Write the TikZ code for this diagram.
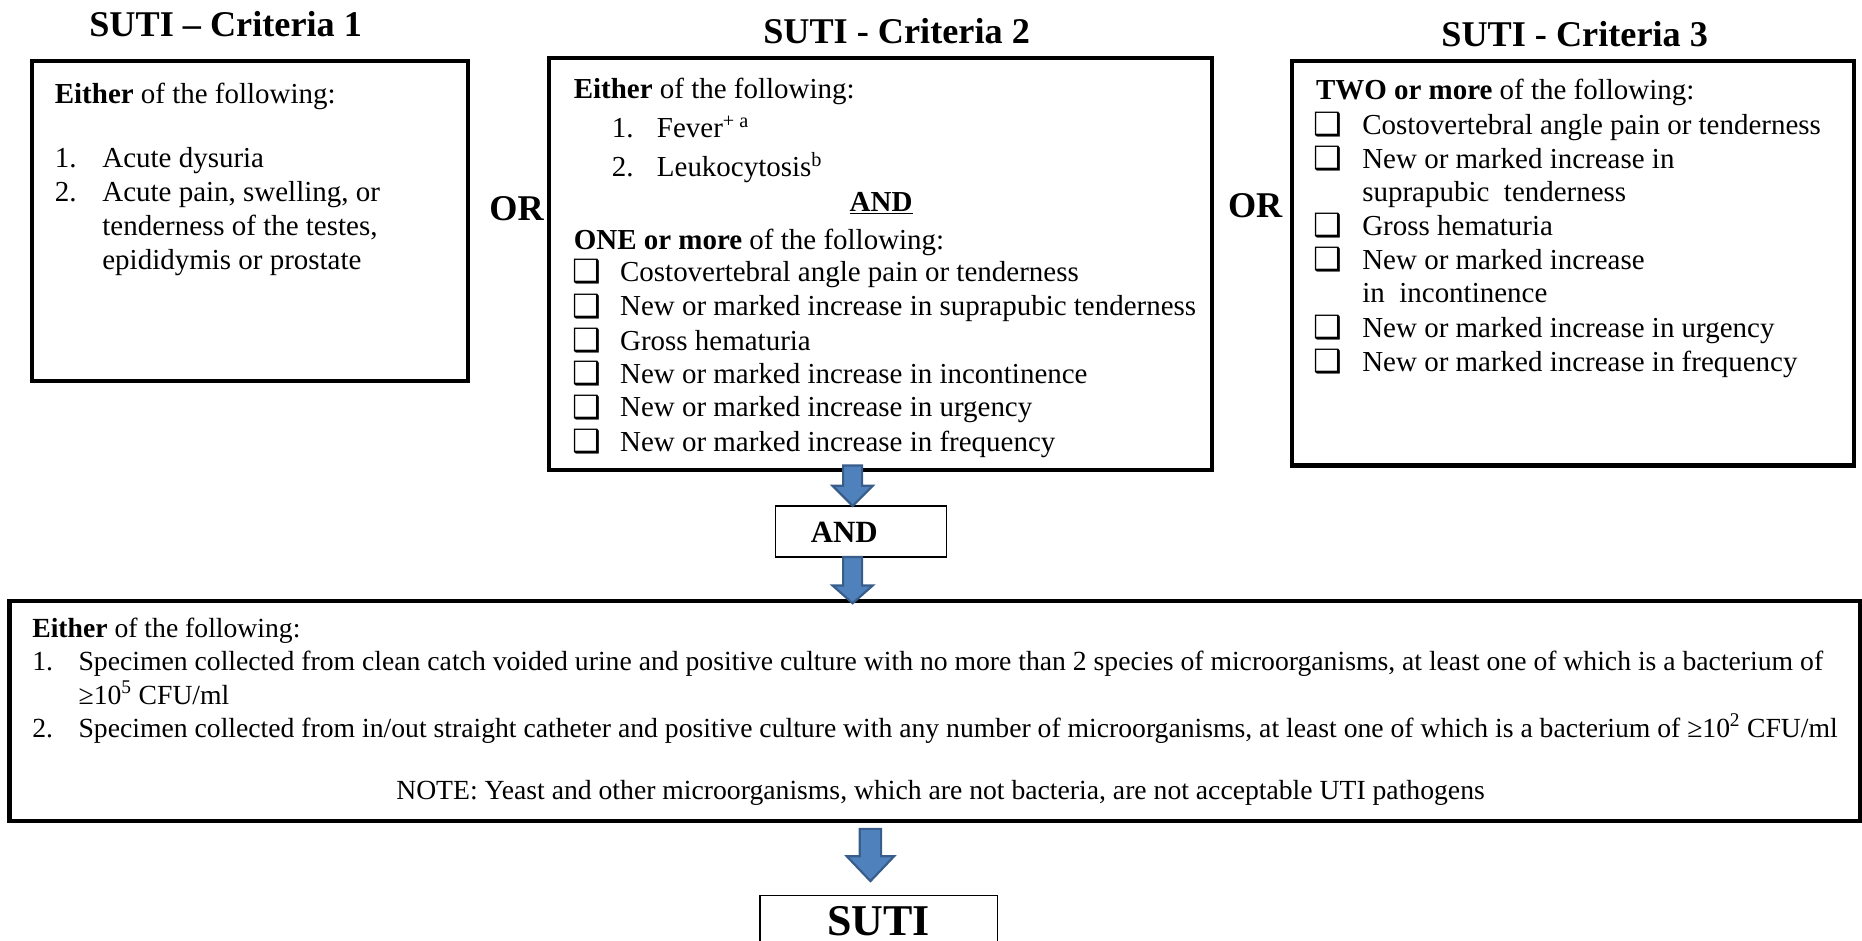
\documentclass[tikz,border=0pt]{standalone}
\usepackage{fontspec}
\setmainfont{Liberation Serif}
\newfontfamily\dejavu{DejaVu Sans}
\definecolor{arrowfill}{HTML}{4F81BD}
\definecolor{arrowline}{HTML}{385D8A}
\newcommand\cbx{{\dejavu\fontsize{27}{27}\selectfont ❑}}
\newcommand\barr[6]{% x, top, headstart, tip, shaft half, head half
  \draw[barrow] (#1-#5,#2) -- (#1+#5,#2) -- (#1+#5,#3) -- (#1+#6,#3) -- (#1,#4) -- (#1-#6,#3) -- (#1-#5,#3) -- cycle;}
\tikzset{
  body/.style={font=\fontsize{24.4}{28}\selectfont, inner sep=0pt, anchor=base west},
  small/.style={font=\fontsize{23.3}{27}\selectfont, inner sep=0pt, anchor=base west},
  ttl/.style={font=\fontsize{30.5}{34}\selectfont\bfseries, inner sep=0pt},
  chk/.style={inner sep=0pt, anchor=base west},
  thickbox/.style={draw, line width=3.4pt, inner sep=0pt},
  thinbox/.style={draw, line width=1.2pt, fill=white, inner sep=0pt},
  barrow/.style={fill=arrowfill, draw=arrowline, line width=1.8pt, line join=miter},
}
\begin{document}
\begin{tikzpicture}[x=1pt,y=-1pt]
\clip (0,0) rectangle (1568,792);
\fill[white] (0,0) rectangle (1568,792);

% titles
\node[ttl] (T1) at (190,20) {SUTI – Criteria 1};
\node[ttl] (T2) at (755,26) {SUTI - Criteria 2};
\node[ttl] (T3) at (1326,29) {SUTI - Criteria 3};

% boxes
\node[thickbox, minimum width=367, minimum height=270] (B1) at (210.5,186) {};
\node[thickbox, minimum width=559, minimum height=347] (B2) at (741.5,222.5) {};
\node[thickbox, minimum width=473, minimum height=341] (B3) at (1324.5,221.5) {};
\node[thickbox, minimum width=1558, minimum height=185] (B4) at (787,598.5) {};
\node[thinbox, minimum width=144, minimum height=43] (AND) at (725,447.5) {};
\node[thinbox, minimum width=200, minimum height=76] (SUTI) at (740,792) {};

% OR labels
\node[ttl] (OR1) at (435,176) {OR};
\node[ttl] (OR2) at (1057,173) {OR};

% box 1
\node[body] (b1a) at (46,87) {\textbf{Either} of the following:};
\node[body] (b1n1) at (46,141) {1.};
\node[body] (b1t1) at (86,141) {Acute dysuria};
\node[body] (b1n2) at (46,170) {2.};
\node[body] (b1t2) at (86,170) {Acute pain, swelling, or};
\node[body] (b1t3) at (86,198) {tenderness of the testes,};
\node[body] (b1t4) at (86,227) {epididymis or prostate};

% box 2
\node[body] (b2a) at (483,83) {\textbf{Either} of the following:};
\node[body] (b2n1) at (515,116) {1.};
\node[body] (b2t1) at (553,116) {Fever\textsuperscript{+ a}};
\node[body] (b2n2) at (515,149) {2.};
\node[body] (b2t2) at (553,149) {Leukocytosis\textsuperscript{b}};
\node[body, anchor=base] (b2and) at (742,178) {\underline{\textbf{AND}}};
\node[body] (b2b) at (483,210) {\textbf{ONE or more} of the following:};
\node[chk] (c21) at (482,238) {\cbx};
\node[body] (b2c1) at (522,237) {Costovertebral angle pain or tenderness};
\node[chk] (c22) at (482,267) {\cbx};
\node[body] (b2c2) at (522,266) {New or marked increase in suprapubic tenderness};
\node[chk] (c23) at (482,296) {\cbx};
\node[body] (b2c3) at (522,295) {Gross hematuria};
\node[chk] (c24) at (482,324) {\cbx};
\node[body] (b2c4) at (522,323) {New or marked increase in incontinence};
\node[chk] (c25) at (482,352) {\cbx};
\node[body] (b2c5) at (522,351) {New or marked increase in urgency};
\node[chk] (c26) at (482,381) {\cbx};
\node[body] (b2c6) at (522,380) {New or marked increase in frequency};

% box 3
\node[body] (b3a) at (1108,84) {\textbf{TWO or more} of the following:};
\node[chk] (c31) at (1106,114) {\cbx};
\node[body] (b3c1) at (1147,113) {Costovertebral angle pain or tenderness};
\node[chk] (c32) at (1106,143) {\cbx};
\node[body] (b3c2) at (1147,142) {New or marked increase in};
\node[body] (b3c2b) at (1147,170) {suprapubic \ tenderness};
\node[chk] (c33) at (1106,199) {\cbx};
\node[body] (b3c3) at (1147,198) {Gross hematuria};
\node[chk] (c34) at (1106,228) {\cbx};
\node[body] (b3c4) at (1147,227) {New or marked increase};
\node[body] (b3c4b) at (1147,255) {in \ incontinence};
\node[chk] (c35) at (1106,285) {\cbx};
\node[body] (b3c5) at (1147,284) {New or marked increase in urgency};
\node[chk] (c36) at (1106,314) {\cbx};
\node[body] (b3c6) at (1147,313) {New or marked increase in frequency};

% bottom box
\node[small] (b4a) at (27,537) {\textbf{Either} of the following:};
\node[small] (b4n1) at (27,565) {1.};
\node[small] (b4t1) at (66,565) {Specimen collected from clean catch voided urine and positive culture with no more than 2 species of microorganisms, at least one of which is a bacterium of};
\node[small] (b4t1b) at (66,593) {≥10\textsuperscript{5} CFU/ml};
\node[small] (b4n2) at (27,621) {2.};
\node[small] (b4t2) at (66,621) {Specimen collected from in/out straight catheter and positive culture with any number of microorganisms, at least one of which is a bacterium of ≥10\textsuperscript{2} CFU/ml};
\node[small, anchor=base] (b4note) at (792,673) {NOTE: Yeast and other microorganisms, which are not bacteria, are not acceptable UTI pathogens};

% AND / SUTI text
\node[font=\fontsize{26}{30}\selectfont\bfseries, inner sep=0pt, anchor=base] (ANDt) at (711,457) {AND};
\node[font=\fontsize{37}{40}\selectfont\bfseries, inner sep=0pt, anchor=base] (SUTIt) at (740,788) {SUTI};

% block arrows
\barr{718}{392}{409}{426}{8}{17}
\barr{718}{469}{493}{508}{8}{17}
\barr{733}{698}{721}{742}{9}{20}
\end{tikzpicture}
\end{document}
